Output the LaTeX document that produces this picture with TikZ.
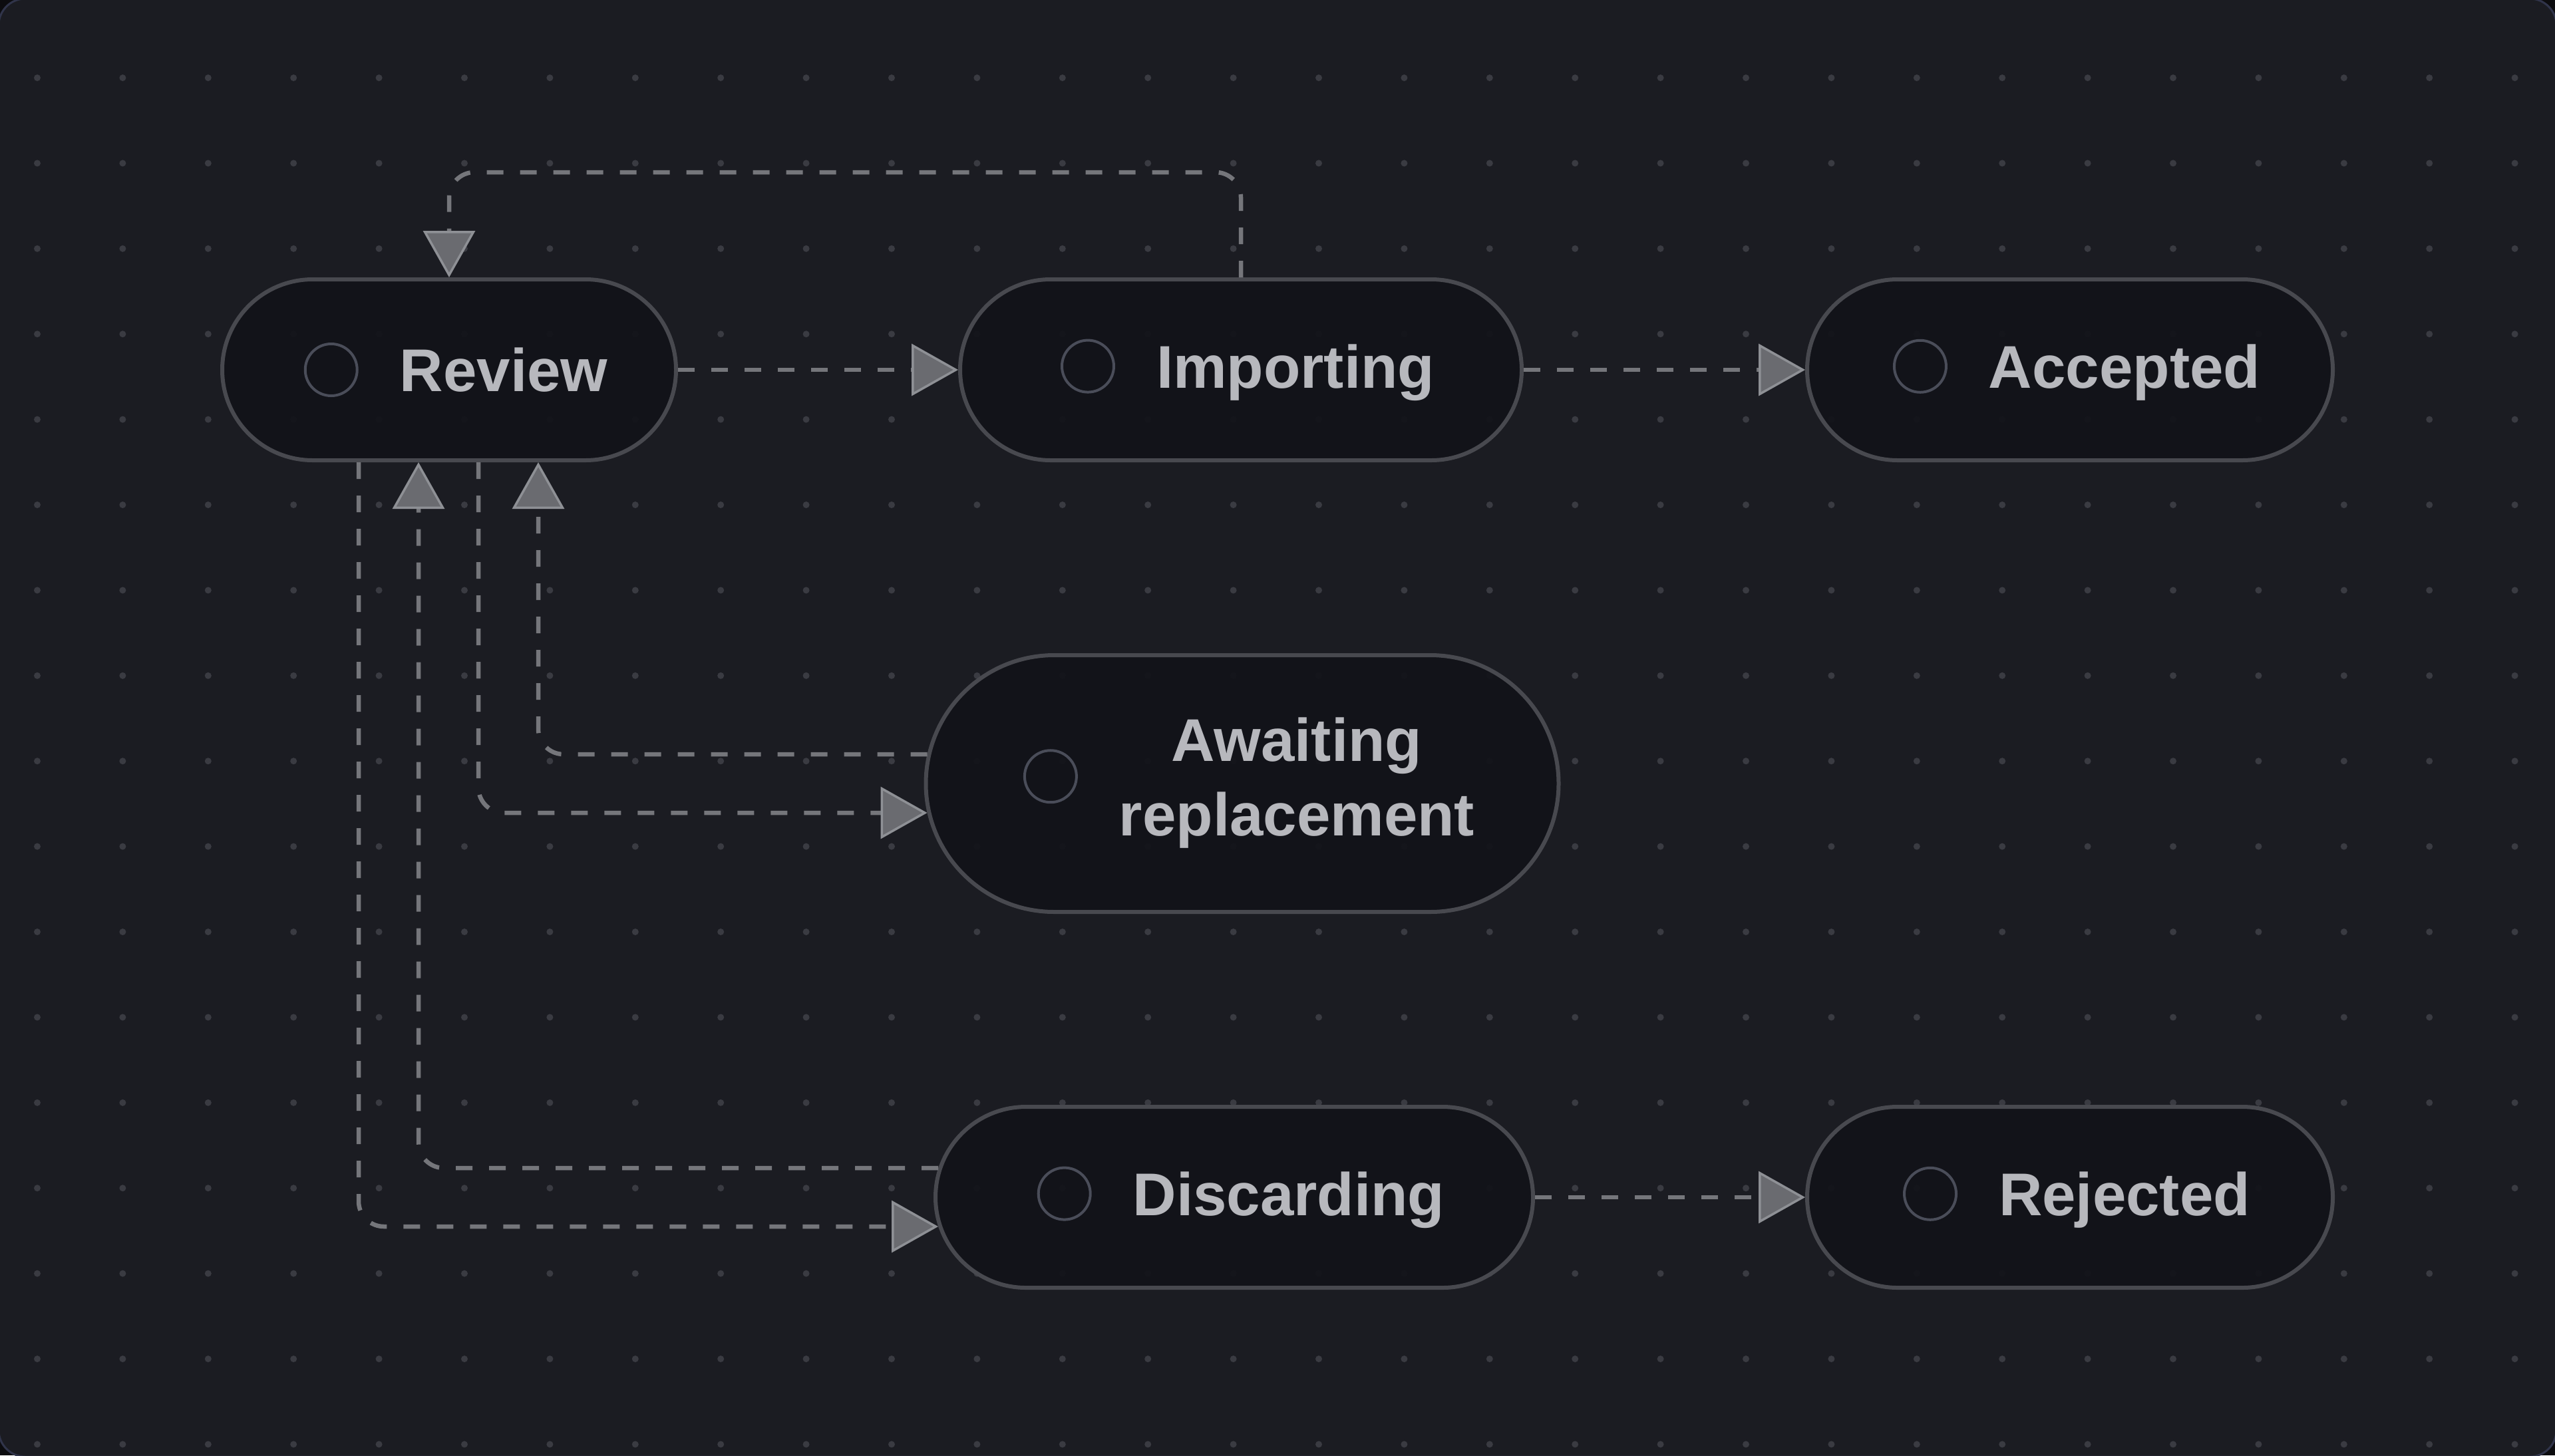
\documentclass[tikz,border=0pt]{standalone}
\usepackage{fontspec}
\setmainfont{Liberation Sans}
\usepackage{tikz}
\usetikzlibrary{arrows.meta}
\usepackage{xcolor}

\definecolor{outercol}{RGB}{12,12,15}
\definecolor{canvasbg}{RGB}{27,28,34}
\definecolor{framecol}{RGB}{48,52,74}
\definecolor{dotcol}{RGB}{58,59,66}
\definecolor{nodebg}{RGB}{18,19,25}
\definecolor{nodeline}{RGB}{72,73,79}
\definecolor{ringcol}{RGB}{74,77,89}
\definecolor{lblcol}{RGB}{183,184,189}
\definecolor{flowcol}{RGB}{117,118,123}
\definecolor{tipfill}{RGB}{106,107,112}
\definecolor{tipline}{RGB}{142,144,149}

\newcommand{\stmark}{\hspace{0.2cm}\tikz[baseline=-0.36em]\draw[ringcol, line width=0.04cm] (0,0) circle (0.39cm);\hspace{0.62cm}}

\begin{document}
\begin{tikzpicture}[
    stbox/.style={rectangle, rounded corners=1.36cm, minimum height=2.72cm, fill=nodebg, fill opacity=0.93, text opacity=1, draw=nodeline, line width=0.06cm, text=lblcol, font=\bfseries\fontsize{25.8}{32}\selectfont, inner sep=0pt},
    tallbox/.style={stbox, rounded corners=1.93cm, minimum height=3.86cm},
    flow/.style={draw=flowcol, line width=0.065cm, dash pattern=on 0.25cm off 0.25cm, rounded corners=0.38cm, -{Triangle[length=0.7cm, width=0.78cm, fill=tipfill, color=tipline, line width=0.035cm]}},
    gdot/.style={fill=dotcol},
]
\useasboundingbox (0,0) rectangle (38.4,-21.88);
\fill[outercol] (0,0) rectangle (38.4,-21.88);
\draw[framecol, fill=canvasbg, line width=0.03cm, rounded corners=0.4cm] (-0.02,0.02) rectangle (38.42,-21.90);
\foreach \i in {0,...,29}
  \foreach \j in {0,...,16}
    \fill[gdot] (0.56+1.284*\i, -1.17-1.284*\j) circle (0.05);

\node[stbox, minimum width=6.82cm] (review) at (6.75,-5.56) {\stmark Review};
\node[stbox, minimum width=8.44cm] (importing) at (18.65,-5.56) {\stmark Importing};
\node[stbox, minimum width=7.90cm] (accepted) at (31.11,-5.56) {\stmark Accepted};
\node[tallbox, minimum width=9.51cm] (awaiting) at (18.67,-11.78) {\stmark\begin{tabular}{@{}c@{}}Awaiting\\replacement\end{tabular}};
\node[stbox, minimum width=8.98cm] (discarding) at (18.55,-18.00) {\stmark Discarding};
\node[stbox, minimum width=7.90cm] (rejected) at (31.11,-18.00) {\stmark Rejected};

\coordinate (loop) at (0,-2.59);
\draw[flow] (review.east) -- (importing.west);
\draw[flow] (importing.east) -- (accepted.west);
\draw[flow] (importing.north) -- (importing.north |- loop) -- (review.north |- loop) -- (review.north);
\draw[flow] ([xshift=0.44cm]review.south) |- ([shift={(0.05,-0.44)}]awaiting.west);
\draw[flow] ([shift={(0.05,0.44)}]awaiting.west) -| ([xshift=1.34cm]review.south);
\draw[flow] ([xshift=-1.36cm]review.south) |- ([shift={(0.07,-0.44)}]discarding.west);
\draw[flow] ([shift={(0.07,0.44)}]discarding.west) -| ([xshift=-0.46cm]review.south);
\draw[flow] (discarding.east) -- (rejected.west);
\end{tikzpicture}
\end{document}
